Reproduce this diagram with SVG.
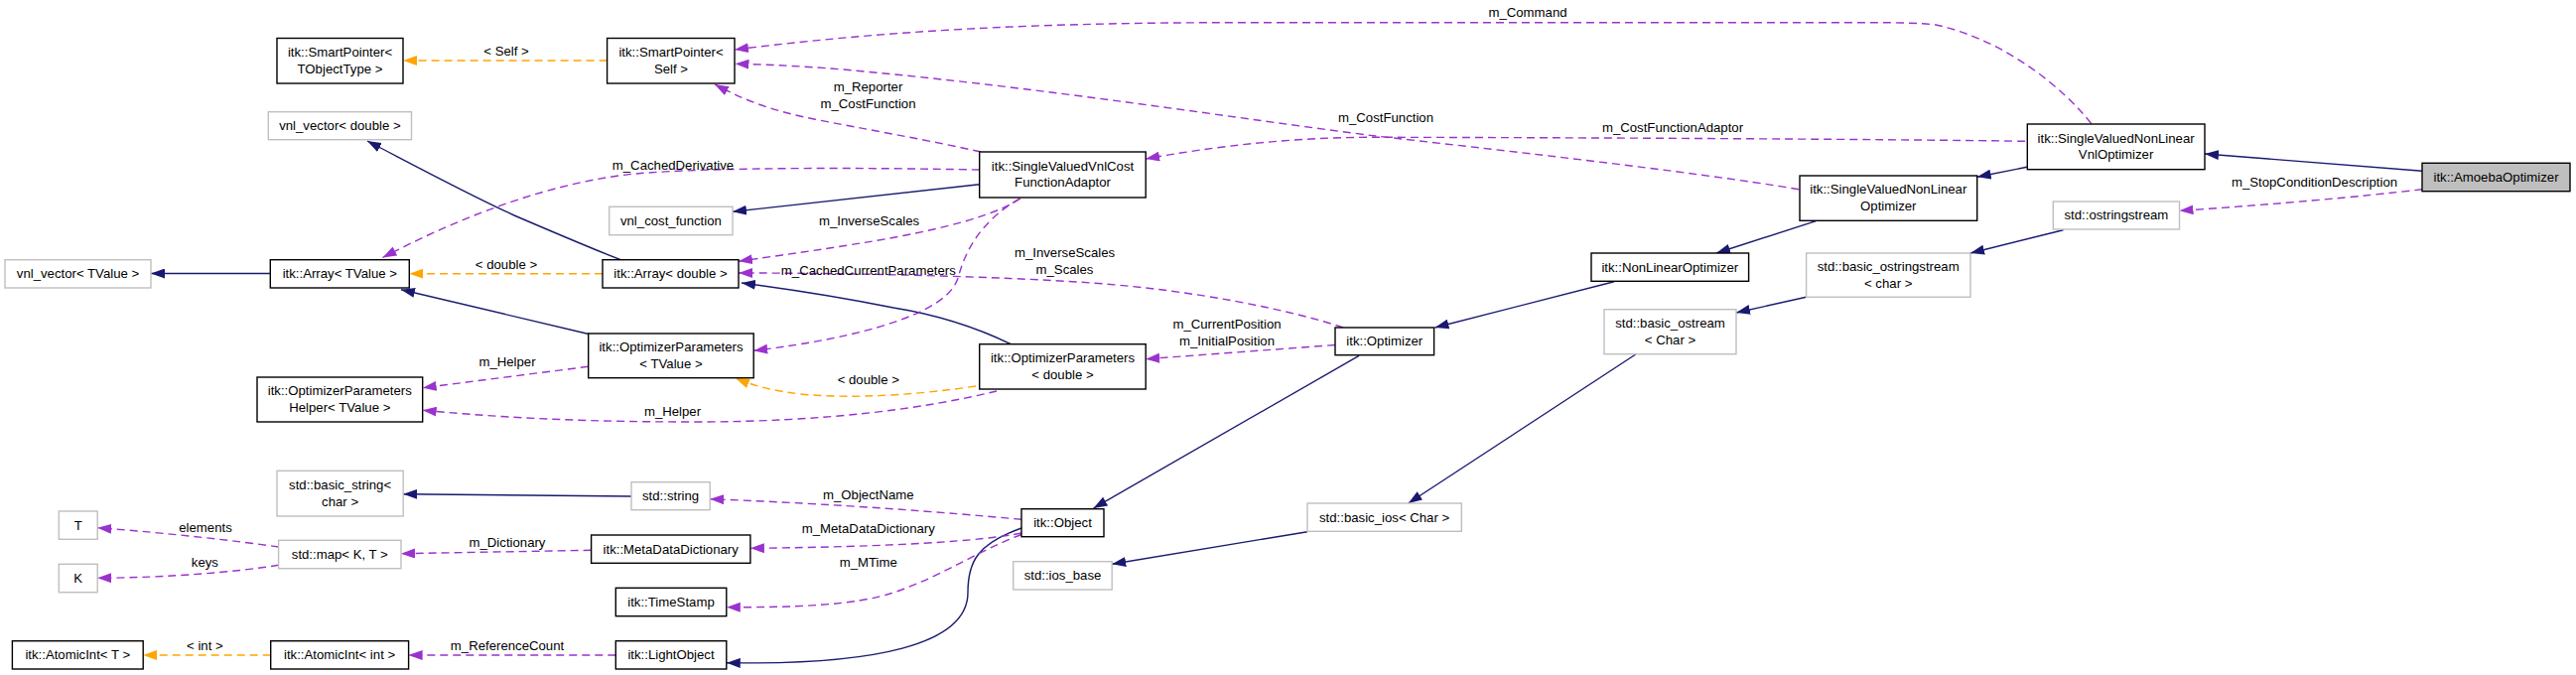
<svg xmlns="http://www.w3.org/2000/svg" width="2595" height="680" viewBox="0 0 2595 680">
<style>
text{font-family:"Liberation Sans",Arial,sans-serif;font-size:13.2px;fill:#000;text-anchor:middle}
.b{fill:#fff;stroke:#000;stroke-width:1.4}
.g{fill:#fff;stroke:#bfbfbf;stroke-width:1.4}
.h{fill:#bfbfbf;stroke:#000;stroke-width:1.4}
.inh{fill:none;stroke:#191970;stroke-width:1.4;marker-end:url(#an)}
.use{fill:none;stroke:#9a32cd;stroke-width:1.4;stroke-dasharray:8,5;marker-end:url(#ap)}
.tpl{fill:none;stroke:#ffa500;stroke-width:1.4;stroke-dasharray:8,5;marker-end:url(#ao)}
</style>
<defs>
<marker id="an" markerUnits="userSpaceOnUse" markerWidth="14" markerHeight="10" viewBox="0 0 14 10" refX="14" refY="5" orient="auto"><path d="M0,0L14,5L0,10z" fill="#191970"/></marker>
<marker id="ap" markerUnits="userSpaceOnUse" markerWidth="14" markerHeight="10" viewBox="0 0 14 10" refX="14" refY="5" orient="auto"><path d="M0,0L14,5L0,10z" fill="#9a32cd"/></marker>
<marker id="ao" markerUnits="userSpaceOnUse" markerWidth="14" markerHeight="10" viewBox="0 0 14 10" refX="14" refY="5" orient="auto"><path d="M0,0L14,5L0,10z" fill="#ffa500"/></marker>
</defs>
<rect width="2595" height="680" fill="#fff"/>
<g id="connectors">
<path class="inh" d="M272.3,275.5 L152,275.5"/>
<path class="inh" d="M626,262 C600,252 560,235 518,217 C470,195 420,168 370,142"/>
<path class="inh" d="M593,336.5 L404,291.7"/>
<path class="inh" d="M986.7,185.7 L738,213.3"/>
<path class="inh" d="M1018,346.5 C990,333 950,318 900,310 C850,300 800,292 747,285"/>
<path class="inh" d="M636,500 L406.2,497.7"/>
<path class="inh" d="M1369,358.3 L1101.5,512"/>
<path class="inh" d="M1029,532 C985,548 975,565 975,597 C975,650 880,670 731.8,667.7"/>
<path class="inh" d="M1626,283.7 L1445.5,330"/>
<path class="inh" d="M1829.4,222.7 L1729,255"/>
<path class="inh" d="M2042,168.3 L1991.7,178.3"/>
<path class="inh" d="M2440,172.3 L2221,155"/>
<path class="inh" d="M2078.4,231.7 L1985,255"/>
<path class="inh" d="M1819.6,299.3 L1749,315"/>
<path class="inh" d="M1647.7,357 L1418.7,507"/>
<path class="inh" d="M1317,535.7 L1120.2,568.3"/>
<path class="tpl" d="M611.6,61 L406.2,61"/>
<path class="tpl" d="M607,275.7 L412.3,275.7"/>
<path class="tpl" d="M983,389 C930,397 880,400 840,399 C800,398 770,393 741,381"/>
<path class="tpl" d="M272.7,660 L144.2,660"/>
<path class="use" d="M2106.6,124.5 C2080,90 2020,40 1950,25 C1930,22.7 1900,22.7 1880,22.7 L1250,22.7 C1050,22.7 900,30 740,50"/>
<path class="use" d="M1812,190.7 C1700,172 1500,150 1386,137 C1250,120 1050,88 849,70 C800,66 770,65 740.5,64.3"/>
<path class="use" d="M988,153 C930,140 870,130 820,120 C775,111 748,100 720,85"/>
<path class="use" d="M2040,142.3 C1900,140 1500,138.3 1380,138.3 C1300,138.3 1220,148 1154.2,160"/>
<path class="use" d="M986.7,171 C880,169 720,168 640,175 C560,183 470,215 385.5,259.5"/>
<path class="use" d="M1028,200 C990,225 900,240 848,248 C810,254 780,258 744,263.3"/>
<path class="use" d="M1027,200 C985,225 972,255 965,280 C955,315 870,340 759.2,353.3"/>
<path class="use" d="M1353,330 C1300,312 1200,292 1100,285 C1000,278 850,275 744,275"/>
<path class="use" d="M1345,347.5 L1154.2,361.7"/>
<path class="use" d="M592.7,369.3 L425.7,390.7"/>
<path class="use" d="M1004,394 C930,412 830,425 700,425 C600,425 520,422 425.7,413.3"/>
<path class="use" d="M1029,523.3 C950,516 850,508 715.2,502.7"/>
<path class="use" d="M1029,537 C990,545 900,551 755.9,552.3"/>
<path class="use" d="M1029,538.5 C985,555 950,580 900,597 C860,610 800,612 731.8,611.7"/>
<path class="use" d="M595.6,554.3 L404,557.7"/>
<path class="use" d="M280.6,551 C240,545 170,537 98.2,531.7"/>
<path class="use" d="M280.6,569.3 C240,576 170,582 98.2,582.3"/>
<path class="use" d="M620.3,660 L411.6,660"/>
<path class="use" d="M2440,190.7 C2380,198 2290,206 2195.5,212.3"/>
<text x="510" y="56">&lt; Self &gt;</text>
<text x="1539" y="16.8">m_Command</text>
<text x="874.5" y="92.2">m_Reporter</text>
<text x="874.5" y="108.8">m_CostFunction</text>
<text x="1396" y="123.2">m_CostFunction</text>
<text x="1685" y="133.2">m_CostFunctionAdaptor</text>
<text x="678" y="170.5">m_CachedDerivative</text>
<text x="875.5" y="226.8">m_InverseScales</text>
<text x="510" y="271.2">&lt; double &gt;</text>
<text x="874.8" y="277.2">m_CachedCurrentParameters</text>
<text x="1072.5" y="258.8">m_InverseScales</text>
<text x="1072.5" y="276.2">m_Scales</text>
<text x="2331.5" y="187.8">m_StopConditionDescription</text>
<text x="1236" y="331">m_CurrentPosition</text>
<text x="1236" y="347.8">m_InitialPosition</text>
<text x="511" y="368.8">m_Helper</text>
<text x="874.8" y="386.8">&lt; double &gt;</text>
<text x="677.5" y="418.8">m_Helper</text>
<text x="874.8" y="502.8">m_ObjectName</text>
<text x="207" y="536.2">elements</text>
<text x="874.8" y="536.8">m_MetaDataDictionary</text>
<text x="511" y="551.2">m_Dictionary</text>
<text x="206.4" y="571.2">keys</text>
<text x="874.8" y="571.2">m_MTime</text>
<text x="206.4" y="655.2">&lt; int &gt;</text>
<text x="511" y="655.2">m_ReferenceCount</text>
</g>
<g id="n_SmartPointerTObjectType"><rect class="b" x="279" y="38.5" width="127" height="45.5"/><text x="342.5" y="56.9">itk::SmartPointer&lt;</text><text x="342.5" y="73.5">TObjectType &gt;</text></g>
<g id="n_SmartPointerSelf"><rect class="b" x="611.6" y="38.5" width="128.4" height="45.5"/><text x="676" y="56.9">itk::SmartPointer&lt;</text><text x="676" y="73.5">Self &gt;</text></g>
<g id="n_vnl_vector_double"><rect class="g" x="270.3" y="112.7" width="144.2" height="28"/><text x="342.4" y="131">vnl_vector&lt; double &gt;</text></g>
<g id="n_vnl_vector_TValue"><rect class="g" x="5" y="261.7" width="147" height="28.3"/><text x="78.5" y="280">vnl_vector&lt; TValue &gt;</text></g>
<g id="n_Array_TValue"><rect class="b" x="272.3" y="261.7" width="140" height="28.3"/><text x="342.3" y="280">itk::Array&lt; TValue &gt;</text></g>
<g id="n_Array_double"><rect class="b" x="607" y="261.7" width="137" height="28.3"/><text x="675.5" y="280">itk::Array&lt; double &gt;</text></g>
<g id="n_vnl_cost_function"><rect class="g" x="613.7" y="208.3" width="124.3" height="28.4"/><text x="675.9" y="226.7">vnl_cost_function</text></g>
<g id="n_Adaptor"><rect class="b" x="986.7" y="153" width="167.5" height="46"/><text x="1070.5" y="171.6">itk::SingleValuedVnlCost</text><text x="1070.5" y="188.2">FunctionAdaptor</text></g>
<g id="n_OptParams_TValue"><rect class="b" x="592.7" y="336" width="166.5" height="44.7"/><text x="676" y="354">itk::OptimizerParameters</text><text x="676" y="370.6">&lt; TValue &gt;</text></g>
<g id="n_OptParamsHelper"><rect class="b" x="259" y="380" width="166.7" height="45"/><text x="342.3" y="398.2">itk::OptimizerParameters</text><text x="342.3" y="414.8">Helper&lt; TValue &gt;</text></g>
<g id="n_OptParams_double"><rect class="b" x="986.7" y="346.7" width="167.5" height="45.3"/><text x="1070.5" y="365">itk::OptimizerParameters</text><text x="1070.5" y="381.6">&lt; double &gt;</text></g>
<g id="n_basic_string"><rect class="g" x="279" y="474.3" width="127.2" height="45.7"/><text x="342.6" y="492.9">std::basic_string&lt;</text><text x="342.6" y="509.5">char &gt;</text></g>
<g id="n_T"><rect class="g" x="59.3" y="515" width="38.9" height="28.3"/><text x="78.7" y="533.5">T</text></g>
<g id="n_K"><rect class="g" x="59.3" y="568.3" width="38.9" height="28.4"/><text x="78.7" y="586.8">K</text></g>
<g id="n_map"><rect class="g" x="280.6" y="544.3" width="123.4" height="28.4"/><text x="342.3" y="562.8">std::map&lt; K, T &gt;</text></g>
<g id="n_AtomicInt_T"><rect class="b" x="12.4" y="645.7" width="131.8" height="28.3"/><text x="78.3" y="664.2">itk::AtomicInt&lt; T &gt;</text></g>
<g id="n_AtomicInt_int"><rect class="b" x="272.7" y="645.7" width="138.9" height="28.3"/><text x="342.1" y="664.2">itk::AtomicInt&lt; int &gt;</text></g>
<g id="n_string"><rect class="g" x="636" y="485.7" width="79.2" height="28"/><text x="675.6" y="504">std::string</text></g>
<g id="n_MetaDataDictionary"><rect class="b" x="595.6" y="539" width="160.3" height="28.3"/><text x="675.7" y="557.5">itk::MetaDataDictionary</text></g>
<g id="n_TimeStamp"><rect class="b" x="620.3" y="592.3" width="111.5" height="28.4"/><text x="676" y="610.8">itk::TimeStamp</text></g>
<g id="n_LightObject"><rect class="b" x="620.3" y="645.7" width="111.5" height="28.3"/><text x="676" y="664.2">itk::LightObject</text></g>
<g id="n_Object"><rect class="b" x="1029" y="512.7" width="83" height="28"/><text x="1070.5" y="531">itk::Object</text></g>
<g id="n_ios_base"><rect class="g" x="1020.7" y="565.7" width="99.5" height="28.3"/><text x="1070.5" y="584.2">std::ios_base</text></g>
<g id="n_Optimizer"><rect class="b" x="1345" y="330" width="99.6" height="27.7"/><text x="1394.8" y="348.2">itk::Optimizer</text></g>
<g id="n_basic_ios"><rect class="g" x="1317" y="507" width="155.3" height="28.3"/><text x="1394.6" y="525.5">std::basic_ios&lt; Char &gt;</text></g>
<g id="n_NonLinearOptimizer"><rect class="b" x="1603" y="255" width="158.6" height="28.3"/><text x="1682.3" y="273.5">itk::NonLinearOptimizer</text></g>
<g id="n_basic_ostream"><rect class="g" x="1616" y="311.7" width="133" height="45"/><text x="1682.5" y="329.9">std::basic_ostream</text><text x="1682.5" y="346.5">&lt; Char &gt;</text></g>
<g id="n_SVNLO"><rect class="b" x="1813" y="177" width="178.7" height="45.3"/><text x="1902.3" y="195.4">itk::SingleValuedNonLinear</text><text x="1902.3" y="212">Optimizer</text></g>
<g id="n_basic_ostringstream"><rect class="g" x="1819.6" y="255" width="165.3" height="44.3"/><text x="1902.2" y="272.9">std::basic_ostringstream</text><text x="1902.2" y="289.5">&lt; char &gt;</text></g>
<g id="n_VnlOptimizer"><rect class="b" x="2042.3" y="125" width="178.7" height="45.7"/><text x="2131.6" y="143.5">itk::SingleValuedNonLinear</text><text x="2131.6" y="160.1">VnlOptimizer</text></g>
<g id="n_ostringstream"><rect class="g" x="2068.3" y="203" width="127.2" height="28"/><text x="2131.9" y="221.3">std::ostringstream</text></g>
<g id="n_AmoebaOptimizer"><rect class="h" x="2440" y="164.3" width="149" height="28.4"/><text x="2514.5" y="182.8">itk::AmoebaOptimizer</text></g>
</svg>
